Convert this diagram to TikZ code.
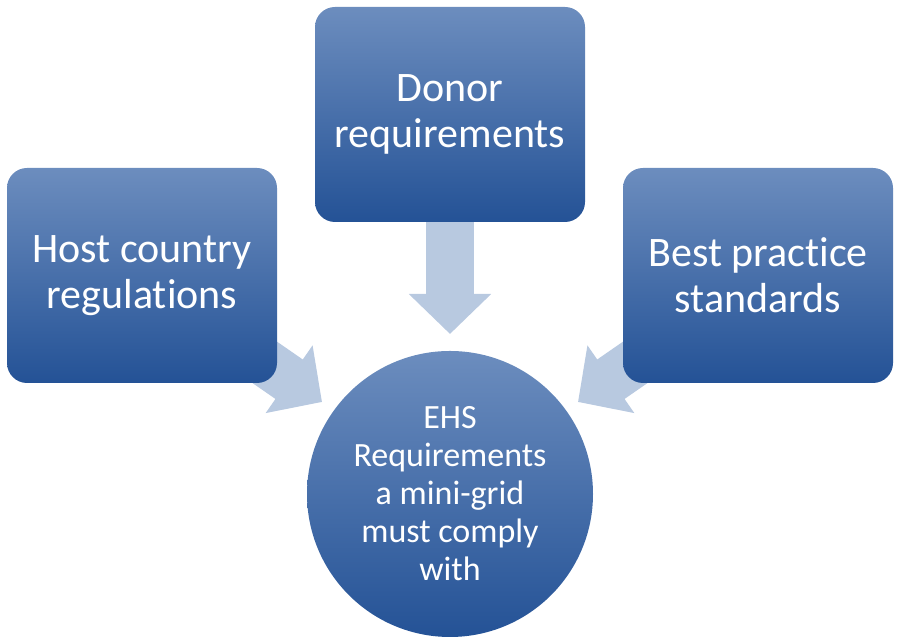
\documentclass[tikz,border=0pt]{standalone}
\usepackage{fontspec}
\setmainfont{Carlito}[Ligatures=NoCommon]
\usetikzlibrary{arrows.meta,backgrounds}
\definecolor{boxtop}{RGB}{108,141,190}
\definecolor{boxbot}{RGB}{36,82,150}
\definecolor{arrowfill}{RGB}{184,201,224}
\tikzset{
    srcbox/.style={rounded corners=10pt, shading=axis, top color=boxtop, bottom color=boxbot,
        minimum width=135pt, minimum height=107.5pt, text=white, align=center,
        font=\fontsize{21}{23}\selectfont},
    goal/.style={circle, shading=axis, top color=boxtop, bottom color=boxbot,
        minimum size=143pt, inner sep=0pt, text=white, align=center,
        font=\fontsize{17}{19}\selectfont},
    feed/.style={line width=24pt, arrowfill, -{Triangle[width=40pt,length=20pt]}}
}
\begin{document}
\begin{tikzpicture}[x=0.5pt,y=0.5pt]
    \useasboundingbox (0,0) rectangle (900,640);
    \node[srcbox] (host) at (142,364.5) {Host country\\regulations};
    \node[srcbox] (donor) at (450,525.5) {Donor\\requirements};
    \node[srcbox] (best) at (758,364.5) {Best practice\\standards};
    \node[goal] (ehs) at (450,146) {EHS\\Requirements\\a mini-grid\\must comply\\with};
    % arrow ends
    \coordinate (tipL) at (322,238);
    \coordinate (tipM) at (450,306);
    \coordinate (tipR) at (578,238);
    \coordinate (tailL) at (244,292);
    \coordinate (tailR) at (656,292);
    \begin{scope}[on background layer]
        \draw[feed] (tailL) -- (tipL);
        \draw[feed] (donor.south) -- (tipM);
        \draw[feed] (tailR) -- (tipR);
    \end{scope}
\end{tikzpicture}
\end{document}
